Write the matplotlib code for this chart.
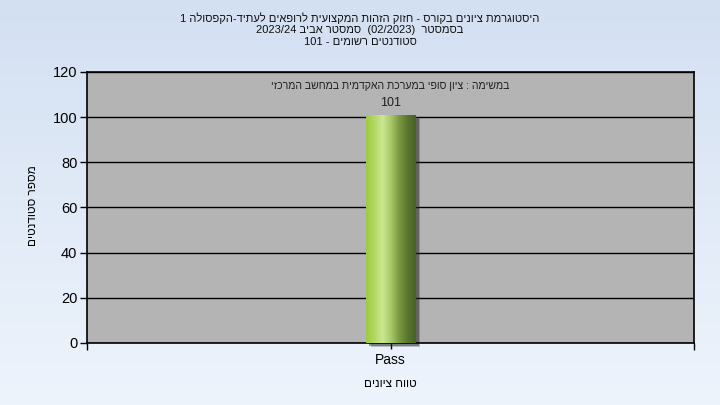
import re
import numpy as np
import matplotlib
matplotlib.use("Agg")
import matplotlib.pyplot as plt
import matplotlib.transforms as mtransforms
from matplotlib.colors import LinearSegmentedColormap

# data
categories = ["Pass"]
students = [101]
y_ticks = [0, 20, 40, 60, 80, 100, 120]

title_lines = [
    "היסטוגרמת ציונים בקורס - חזוק הזהות המקצועית לרופאים לעתיד-הקפסולה 1",
    "בסמסטר  (02/2023)  סמסטר אביב 2023/24",
    "סטודנטים רשומים - 101",
]
bar_note = "במשימה : ציון סופי במערכת האקדמית במחשב המרכזי"
x_title = "טווח ציונים"
y_title = "מספר סטודנטים"


def rtl(s):
    # matplotlib draws code points left to right, so lay out an RTL line by hand:
    # reverse everything, put number runs back in order, mirror brackets
    out = s[::-1]
    out = re.sub(r"[0-9A-Za-z][0-9A-Za-z/.]*[0-9A-Za-z]|[0-9A-Za-z]",
                 lambda m: m.group()[::-1], out)
    return out.translate(str.maketrans("()", ")("))


plt.rcParams["font.family"] = ["Liberation Sans", "DejaVu Sans"]

fig = plt.figure(figsize=(7.2, 4.05), dpi=100)

# page background: light blue vertical gradient
bg = fig.add_axes([0, 0, 1, 1], zorder=-5)
bg_cmap = LinearSegmentedColormap.from_list("bg", ["#eef4fc", "#d3e0f2"])
bg.imshow(np.linspace(0, 1, 256).reshape(-1, 1), aspect="auto", cmap=bg_cmap,
          origin="lower", extent=[0, 1, 0, 1])
bg.axis("off")

ax = fig.add_axes([87 / 720, 1 - 343 / 405, 607 / 720, 271 / 405])
ax.set_facecolor("#b4b4b4")

x = np.arange(len(categories))
width = 0.082

# drop shadow (two layers for a soft edge)
for dx, dy, a in [(0.05, -0.04, 0.25), (0.035, -0.025, 0.45)]:
    shadow_tr = ax.transData + mtransforms.ScaledTranslation(dx, dy, fig.dpi_scale_trans)
    ax.bar(x, students, width=width, color="#2a2a2a", alpha=a, transform=shadow_tr,
           zorder=2, clip_on=False)

bars = ax.bar(x, students, width=width, color="none", zorder=3)
bar_cmap = LinearSegmentedColormap.from_list(
    "bar", ["#9cca3e", "#b2d865", "#cbe794", "#a9c868", "#7a983f", "#5a7630", "#46602a"])
for b in bars:
    x0, y0 = b.get_x(), b.get_y()
    im = ax.imshow(np.linspace(0, 1, 256).reshape(1, -1), aspect="auto", cmap=bar_cmap,
                   extent=[x0, x0 + b.get_width(), y0, y0 + b.get_height()], zorder=3)
    im.set_clip_path(b)

for xi, v in zip(x, students):
    ax.annotate(str(v), (xi, v), xytext=(0, 4), textcoords="offset points",
                ha="center", va="bottom", fontsize=9, color="#202020")

ax.text(0.5, 0.948, rtl(bar_note), transform=ax.transAxes, ha="center", va="center",
        fontsize=7.6, color="#202020")

ax.set_xlim(-0.5, 0.5)
ax.set_ylim(0, 120)
ax.set_yticks(y_ticks)
ax.set_xticks(x)
ax.set_xticklabels(categories, fontsize=10)
ax.set_xticks([-0.5, 0.5], minor=True)
ax.tick_params(axis="y", direction="out", length=5, width=1, labelsize=10.5, pad=2)
ax.tick_params(axis="x", which="major", direction="out", length=4, width=1, pad=3)
ax.tick_params(axis="x", which="minor", direction="out", length=5, width=1)

ax.yaxis.grid(True, color="black", linewidth=1)
ax.set_axisbelow(True)
for s in ax.spines.values():
    s.set_color("black")
    s.set_linewidth(1.2)

ax.set_xlabel(rtl(x_title), fontsize=8.5, labelpad=8)
fig.text(33 / 720, 1 - 206 / 405, rtl(y_title), ha="center", va="center",
         rotation=90, fontsize=8.5)

for i, line in enumerate(title_lines):
    fig.text(0.5, 1 - (18 + 12 * i) / 405, rtl(line), ha="center", va="center",
             fontsize=8, color="#101010")

fig.savefig("out.png", dpi=100)
plt.close(fig)
